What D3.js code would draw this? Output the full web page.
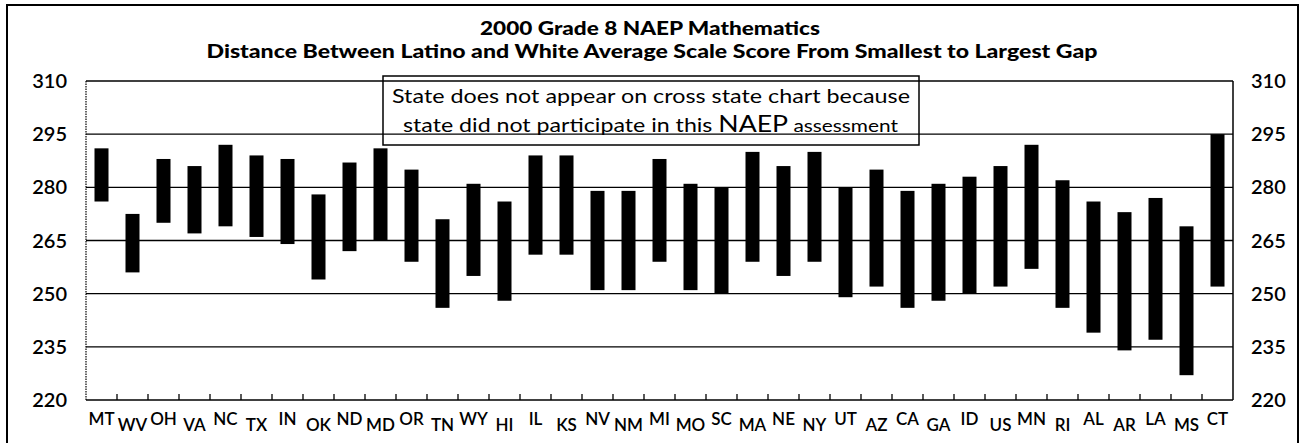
<!DOCTYPE html>
<html>
<head>
<meta charset="utf-8">
<script src="https://cdn.jsdelivr.net/npm/d3@7"></script>
<style>
  body { margin: 0; background: #fff; }
  text { font-family: Lato, "Open Sans", sans-serif; fill: #000; }
</style>
</head>
<body>
<svg id="chart"></svg>
<script>
// states, ordered from smallest to largest gap
let states = ["MT", "WV", "OH", "VA", "NC", "TX", "IN", "OK", "ND", "MD", "OR", "TN",
  "WY", "HI", "IL", "KS", "NV", "NM", "MI", "MO", "SC", "MA", "NE", "NY", "UT", "AZ",
  "CA", "GA", "ID", "US", "MN", "RI", "AL", "AR", "LA", "MS", "CT"];
let latino = [276, 256, 270, 267, 269, 266, 264, 254, 262, 265, 259, 246,
  255, 248, 261, 261, 251, 251, 259, 251, 250, 259, 255, 259, 249, 252,
  246, 248, 250, 252, 257, 246, 239, 234, 237, 227, 252];
let white = [291, 272.5, 288, 286, 292, 289, 288, 278, 287, 291, 285, 271,
  281, 276, 289, 289, 279, 279, 288, 281, 280, 290, 286, 290, 280, 285,
  279, 281, 283, 286, 292, 282, 276, 273, 277, 269, 295];
let yTicks = [220, 235, 250, 265, 280, 295, 310];

let data = states.map((s, i) => ({ state: s, lo: latino[i], hi: white[i] }));

let width = 1301, height = 443;
let plot = { left: 86, right: 1233, top: 81, bottom: 400 };

let svg = d3.select("#chart").attr("width", width).attr("height", height);

// outer frame
svg.append("rect")
  .attr("x", 7).attr("y", 5)
  .attr("width", 1291).attr("height", 445)
  .attr("fill", "none").attr("stroke", "#000").attr("stroke-width", 2);

let x = d3.scaleBand().domain(states).range([plot.left, plot.right]).padding(0);
let y = d3.scaleLinear().domain([220, 310]).range([plot.bottom, plot.top]);

// gridlines
svg.selectAll(".grid")
  .data(yTicks.filter((t) => t > 220))
  .enter()
  .append("line")
  .attr("x1", plot.left).attr("x2", plot.right)
  .attr("y1", (d) => y(d)).attr("y2", (d) => y(d))
  .attr("stroke", "#000").attr("stroke-width", 1.3);

// axes lines
svg.append("line")
  .attr("x1", plot.left).attr("x2", plot.left)
  .attr("y1", plot.top).attr("y2", plot.bottom)
  .attr("stroke", "#000").attr("stroke-width", 1.2)
  .attr("stroke-dasharray", "1.5,1");
svg.append("line")
  .attr("x1", plot.right).attr("x2", plot.right)
  .attr("y1", plot.top).attr("y2", plot.bottom)
  .attr("stroke", "#000").attr("stroke-width", 1.5);
svg.append("line")
  .attr("x1", plot.left).attr("x2", plot.right)
  .attr("y1", plot.bottom).attr("y2", plot.bottom)
  .attr("stroke", "#000").attr("stroke-width", 1.5);

// ticks on the band boundaries
svg.selectAll(".tick")
  .data(states.slice(1))
  .enter()
  .append("line")
  .attr("x1", (d) => x(d)).attr("x2", (d) => x(d))
  .attr("y1", plot.bottom).attr("y2", plot.bottom - 6)
  .attr("stroke", "#000").attr("stroke-width", 1.3);

// bars
let barW = 14;
svg.selectAll(".bar")
  .data(data)
  .enter()
  .append("rect")
  .attr("x", (d) => x(d.state) + x.bandwidth() / 2 - barW / 2)
  .attr("y", (d) => y(d.hi))
  .attr("width", barW)
  .attr("height", (d) => y(d.lo) - y(d.hi))
  .attr("fill", "#000");

// state labels, staggered
svg.selectAll(".lab")
  .data(states)
  .enter()
  .append("text")
  .attr("x", (d) => x(d) + x.bandwidth() / 2)
  .attr("y", (d, i) => (i % 2 == 0 ? 425 : 431))
  .attr("text-anchor", "middle")
  .attr("font-size", 17)
  .attr("font-weight", 600)
  .text((d) => d);

// y labels both sides
svg.selectAll(".yl")
  .data(yTicks)
  .enter()
  .append("text")
  .attr("x", 67)
  .attr("y", (d) => y(d))
  .attr("dy", "0.35em")
  .attr("text-anchor", "end")
  .attr("font-size", 20)
  .attr("font-weight", 600)
  .text((d) => d);
svg.selectAll(".yr")
  .data(yTicks)
  .enter()
  .append("text")
  .attr("x", 1251)
  .attr("y", (d) => y(d))
  .attr("dy", "0.35em")
  .attr("text-anchor", "start")
  .attr("font-size", 20)
  .attr("font-weight", 600)
  .text((d) => d);

// titles
svg.append("text")
  .attr("x", 650).attr("y", 35)
  .attr("text-anchor", "middle")
  .attr("font-size", 18).attr("font-weight", 900)
  .attr("textLength", 340).attr("lengthAdjust", "spacingAndGlyphs")
  .text("2000 Grade 8 NAEP Mathematics");
svg.append("text")
  .attr("x", 652).attr("y", 58)
  .attr("text-anchor", "middle")
  .attr("font-size", 18).attr("font-weight", 900)
  .attr("textLength", 891).attr("lengthAdjust", "spacingAndGlyphs")
  .text("Distance Between Latino and White Average Scale Score From Smallest to Largest Gap");

// note box
svg.append("rect")
  .attr("x", 383).attr("y", 76)
  .attr("width", 536).attr("height", 69)
  .attr("fill", "none").attr("stroke", "#000").attr("stroke-width", 1.5);
svg.append("text")
  .attr("x", 392).attr("y", 103)
  .attr("font-size", 20)
  .attr("textLength", 518).attr("lengthAdjust", "spacingAndGlyphs")
  .text("State does not appear on cross state chart because");
let t2 = svg.append("text")
  .attr("x", 403).attr("y", 132)
  .attr("font-size", 20)
  .attr("textLength", 495).attr("lengthAdjust", "spacingAndGlyphs");
t2.append("tspan").text("state did not participate in this ");
t2.append("tspan").attr("font-size", 23).text("NAEP");
t2.append("tspan").attr("font-size", 18).text(" assessment");
</script>
</body>
</html>
